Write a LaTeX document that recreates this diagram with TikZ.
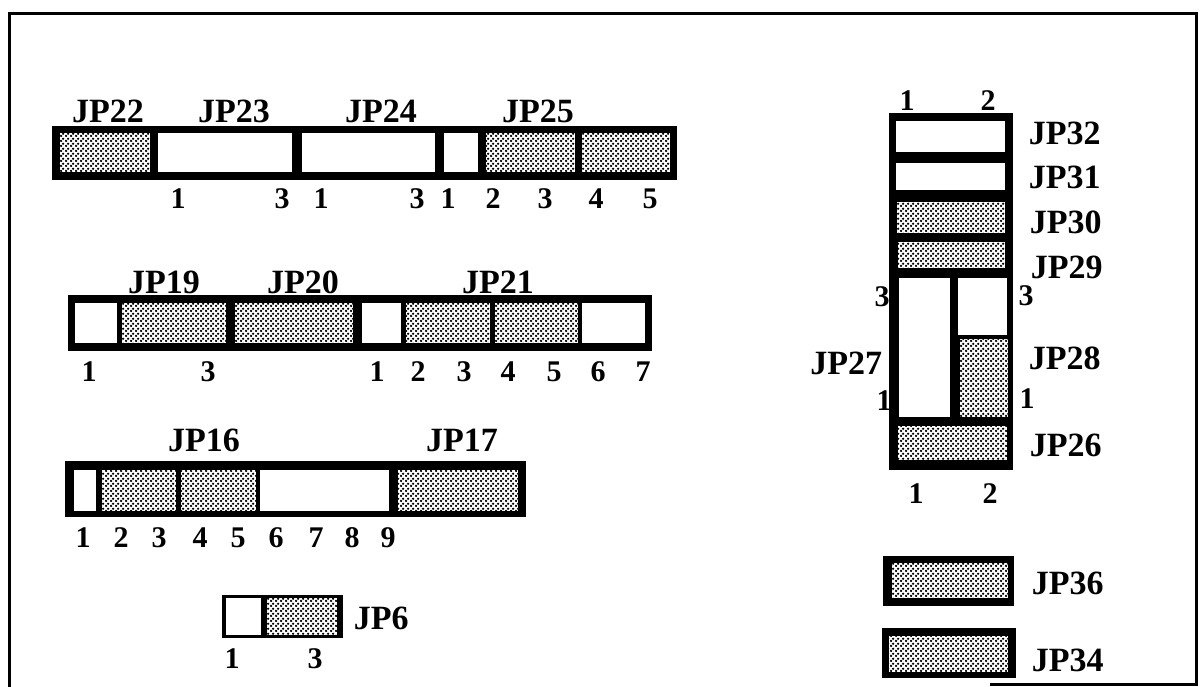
\documentclass[tikz,border=0pt]{standalone}
\usepackage{fontspec}
\setmainfont{Liberation Serif}
\usetikzlibrary{patterns}

\pgfdeclarepatternformonly{stipple}{\pgfpointorigin}{\pgfqpoint{5pt}{5pt}}{\pgfqpoint{5pt}{5pt}}{%
  \pgfpathcircle{\pgfqpoint{1.25pt}{1.25pt}}{1.5pt}
  \pgfpathcircle{\pgfqpoint{3.75pt}{3.75pt}}{1.5pt}
  \pgfusepath{fill}}

\begin{document}
\begin{tikzpicture}[x=1pt,y=1pt,yscale=-1,xscale=1,
  bar/.style={draw=none,fill=black},
  hole/.style={draw=none,fill=white},
  stip/.style={draw=none,fill=white,postaction={pattern=stipple,pattern color=black}},
  jlbl/.style={font=\fontsize{34}{34}\selectfont\bfseries,inner sep=0.75pt},
  pnum/.style={font=\fontsize{30}{30}\selectfont\bfseries,inner sep=0.75pt}]
\useasboundingbox (0,0) rectangle (1202,687);

%Straight Lines (frame)
\draw [line width=3pt]  (9,687) -- (9,14) -- (1196,14) -- (1196,684) -- (990,684) ;

%Shape: Rectangle (JP22 - JP25)
\draw [bar]  (52,126) -- (677,126) -- (677,180) -- (52,180) -- cycle ;
\draw [stip] (60,133) -- (150,133) -- (150,172) -- (60,172) -- cycle ;
\draw [hole] (158,133) -- (292,133) -- (292,172) -- (158,172) -- cycle ;
\draw [hole] (302,133) -- (435,133) -- (435,172) -- (302,172) -- cycle ;
\draw [hole] (444,133) -- (478,133) -- (478,172) -- (444,172) -- cycle ;
\draw [stip] (486,133) -- (575,133) -- (575,172) -- (486,172) -- cycle ;
\draw [stip] (582,133) -- (670,133) -- (670,172) -- (582,172) -- cycle ;

%Shape: Rectangle (JP19 - JP21)
\draw [bar]  (68,295) -- (652,295) -- (652,351) -- (68,351) -- cycle ;
\draw [hole] (75,303) -- (117,303) -- (117,343) -- (75,343) -- cycle ;
\draw [stip] (122,303) -- (226,303) -- (226,343) -- (122,343) -- cycle ;
\draw [stip] (235,303) -- (353,303) -- (353,343) -- (235,343) -- cycle ;
\draw [hole] (362,303) -- (401,303) -- (401,343) -- (362,343) -- cycle ;
\draw [stip] (406,303) -- (490,303) -- (490,343) -- (406,343) -- cycle ;
\draw [stip] (495,303) -- (578,303) -- (578,343) -- (495,343) -- cycle ;
\draw [hole] (582,303) -- (645,303) -- (645,343) -- (582,343) -- cycle ;

%Shape: Rectangle (JP16 - JP17)
\draw [bar]  (65,461) -- (526,461) -- (526,517) -- (65,517) -- cycle ;
\draw [hole] (74,470) -- (96,470) -- (96,511) -- (74,511) -- cycle ;
\draw [stip] (102,470) -- (176,470) -- (176,511) -- (102,511) -- cycle ;
\draw [stip] (181,470) -- (256,470) -- (256,511) -- (181,511) -- cycle ;
\draw [hole] (260,470) -- (389,470) -- (389,511) -- (260,511) -- cycle ;
\draw [stip] (398,470) -- (518,470) -- (518,511) -- (398,511) -- cycle ;

%Shape: Rectangle (JP6)
\draw [bar]  (222,595) -- (343,595) -- (343,638) -- (222,638) -- cycle ;
\draw [hole] (226,598) -- (261,598) -- (261,635) -- (226,635) -- cycle ;
\draw [stip] (267,598) -- (337,598) -- (337,635) -- (267,635) -- cycle ;

%Shape: Rectangle (JP26 - JP32)
\draw [bar]  (889,113) -- (1013,113) -- (1013,470) -- (889,470) -- cycle ;
\draw [hole] (896,121) -- (1005,121) -- (1005,152) -- (896,152) -- cycle ;
\draw [hole] (896,163) -- (1005,163) -- (1005,190) -- (896,190) -- cycle ;
\draw [stip] (897,202) -- (1005,202) -- (1005,233) -- (897,233) -- cycle ;
\draw [stip] (898,242) -- (1005,242) -- (1005,268) -- (898,268) -- cycle ;
\draw [hole] (899,278) -- (950,278) -- (950,417) -- (899,417) -- cycle ;
\draw [hole] (958,278) -- (1007,278) -- (1007,335) -- (958,335) -- cycle ;
\draw [stip] (960,339) -- (1008,339) -- (1008,417) -- (960,417) -- cycle ;
\draw [stip] (898,426) -- (1007,426) -- (1007,460) -- (898,460) -- cycle ;

%Shape: Rectangle (JP36, JP34)
\draw [bar]  (883,556) -- (1014,556) -- (1014,606) -- (883,606) -- cycle ;
\draw [stip] (892,563) -- (1008,563) -- (1008,598) -- (892,598) -- cycle ;
\draw [bar]  (882,628) -- (1016,628) -- (1016,678) -- (882,678) -- cycle ;
\draw [stip] (889,636) -- (1008,636) -- (1008,672) -- (889,672) -- cycle ;

% Text Node
\draw (108,99) node (jp22) [anchor=north][jlbl] {JP22};
\draw (234,99) node (jp23) [anchor=north][jlbl] {JP23};
\draw (381,99) node (jp24) [anchor=north][jlbl] {JP24};
\draw (538,99) node (jp25) [anchor=north][jlbl] {JP25};
\draw (164,270) node (jp19) [anchor=north][jlbl] {JP19};
\draw (303,270) node (jp20) [anchor=north][jlbl] {JP20};
\draw (498,270) node (jp21) [anchor=north][jlbl] {JP21};
\draw (204,428) node (jp16) [anchor=north][jlbl] {JP16};
\draw (462,428) node (jp17) [anchor=north][jlbl] {JP17};
\draw (353,606) node (jp6) [anchor=north west][jlbl] {JP6};
\draw (1028,121) node (jp32) [anchor=north west][jlbl] {JP32};
\draw (1028,165) node (jp31) [anchor=north west][jlbl] {JP31};
\draw (1029,210) node (jp30) [anchor=north west][jlbl] {JP30};
\draw (1030,255) node (jp29) [anchor=north west][jlbl] {JP29};
\draw (883,351) node (jp27) [anchor=north east][jlbl] {JP27};
\draw (1028,346) node (jp28) [anchor=north west][jlbl] {JP28};
\draw (1029,433) node (jp26) [anchor=north west][jlbl] {JP26};
\draw (1031,571) node (jp36) [anchor=north west][jlbl] {JP36};
\draw (1031,648) node (jp34) [anchor=north west][jlbl] {JP34};

% Text Node (pin numbers)
\foreach \px/\pt [count=\i] in {178/1,282/3,321/1,417/3,448/1,493/2,545/3,596/4,650/5}
  \draw (\px,188) node (ra\i) [anchor=north][pnum] {\pt};
\foreach \px/\pt [count=\i] in {89/1,208/3,377/1,418/2,464/3,508/4,554/5,598/6,643/7}
  \draw (\px,361) node (rb\i) [anchor=north][pnum] {\pt};
\foreach \px [count=\i] in {83,121,159,200,238,276,316,352,388}
  \draw (\px,527) node (rc\i) [anchor=north][pnum] {\i};
\draw (232,648) node (jp6a) [anchor=north][pnum] {1};
\draw (315,648) node (jp6b) [anchor=north][pnum] {3};
\draw (907,90) node (ctop1) [anchor=north][pnum] {1};
\draw (988,90) node (ctop2) [anchor=north][pnum] {2};
\draw (916,483) node (cbot1) [anchor=north][pnum] {1};
\draw (990,483) node (cbot2) [anchor=north][pnum] {2};
\draw (882,286) node (cl3) [anchor=north][pnum] {3};
\draw (1026,285) node (cr3) [anchor=north][pnum] {3};
\draw (884,390) node (cl1) [anchor=north][pnum] {1};
\draw (1027,388) node (cr1) [anchor=north][pnum] {1};

\end{tikzpicture}
\end{document}
